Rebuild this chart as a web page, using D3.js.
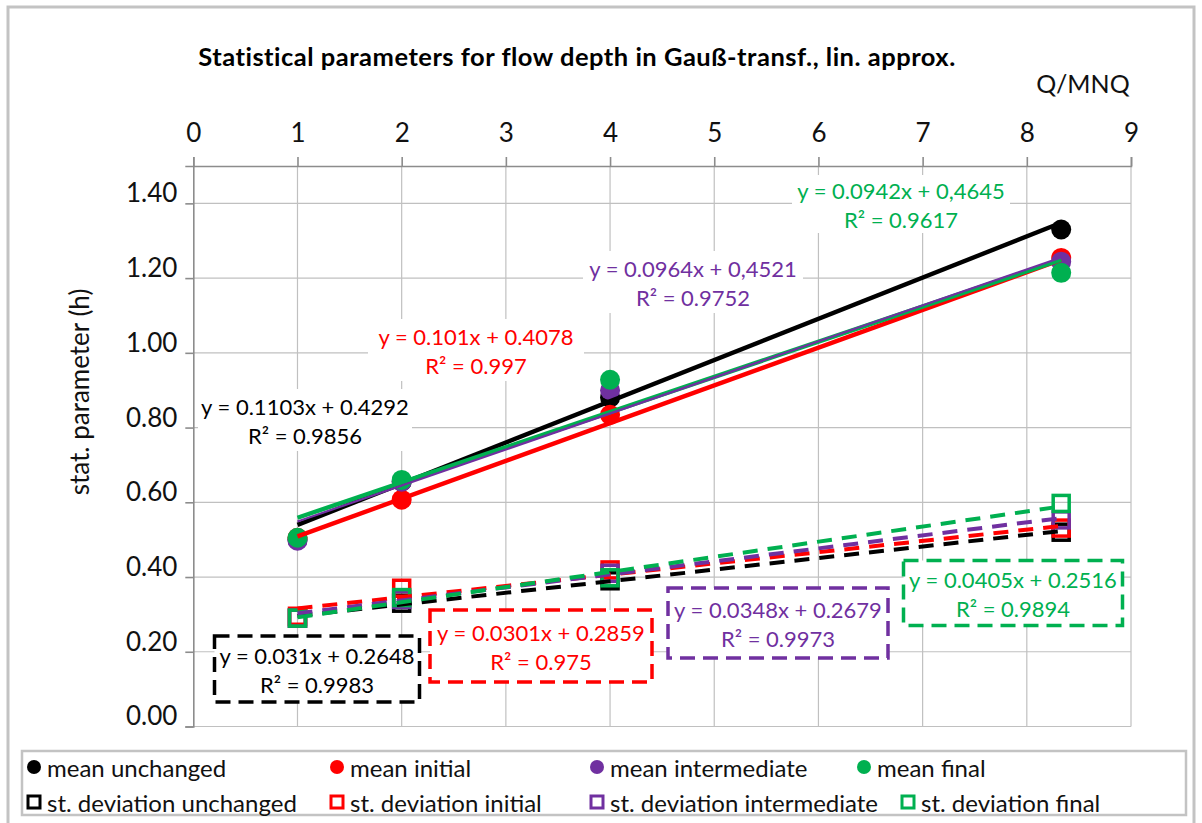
<!DOCTYPE html>
<html>
<head>
<meta charset="utf-8">
<script src="https://cdn.jsdelivr.net/npm/d3@7"></script>
<style>
  html, body { margin: 0; padding: 0; background: #fff; }
  svg { display: block; font-family: Lato, "Open Sans", sans-serif; }
</style>
</head>
<body>
<svg id="chart" width="1202" height="823"></svg>
<script>
// Discharge ratio Q/MNQ at which the flow depth statistics were evaluated
const qRatio = [1, 2, 4, 8.33];

// Mean flow depth per scenario
const meanUnchanged    = [0.50, 0.655, 0.88, 1.33];
const meanInitial      = [0.505, 0.607, 0.834, 1.254];
const meanIntermediate = [0.497, 0.655, 0.90, 1.244];
const meanFinal        = [0.505, 0.66, 0.928, 1.214];

// Standard deviation of flow depth per scenario
const sdUnchanged    = [0.29, 0.33, 0.39, 0.52];
const sdInitial      = [0.295, 0.37, 0.419, 0.531];
const sdIntermediate = [0.29, 0.34, 0.41, 0.553];
const sdFinal        = [0.29, 0.345, 0.398, 0.597];

// Linear trendlines: slope, intercept and coefficient of determination
const meanSlopes     = [0.1103, 0.101, 0.0964, 0.0942];
const meanIntercepts = [0.4292, 0.4078, 0.4521, 0.4645];
const meanEqText     = ["y = 0.1103x + 0.4292", "y = 0.101x + 0.4078", "y = 0.0964x + 0,4521", "y = 0.0942x + 0,4645"];
const meanR2Text     = ["R² = 0.9856", "R² = 0.997", "R² = 0.9752", "R² = 0.9617"];

const sdSlopes     = [0.031, 0.0301, 0.0348, 0.0405];
const sdIntercepts = [0.2648, 0.2859, 0.2679, 0.2516];
const sdEqText     = ["y = 0.031x + 0.2648", "y = 0.0301x + 0.2859", "y = 0.0348x + 0.2679", "y = 0.0405x + 0.2516"];
const sdR2Text     = ["R² = 0.9983", "R² = 0.975", "R² = 0.9973", "R² = 0.9894"];

const scenarios  = ["unchanged", "initial", "intermediate", "final"];
const xTicks     = [0, 1, 2, 3, 4, 5, 6, 7, 8, 9];
const yTicks     = [0, 0.2, 0.4, 0.6, 0.8, 1.0, 1.2, 1.4];

const colors = ["#000000", "#ff0000", "#7030a0", "#00b050"];
const meanSeries = [meanUnchanged, meanInitial, meanIntermediate, meanFinal];
const sdSeries   = [sdUnchanged, sdInitial, sdIntermediate, sdFinal];

const svg = d3.select("#chart");

// outer chart frame
svg.append("rect")
  .attr("x", 8).attr("y", 7).attr("width", 1186).attr("height", 818)
  .attr("fill", "#fff").attr("stroke", "#c3c3c3").attr("stroke-width", 3);

const x = d3.scaleLinear().domain([0, 9]).range([193.3, 1131]);
const y = d3.scaleLinear().domain([0, 1.5]).range([726.5, 166]);

// gridlines
const grid = svg.append("g").attr("stroke", "#c0c0c0").attr("stroke-width", 1.2);
grid.selectAll("line.h").data(yTicks).join("line")
  .attr("x1", x(0)).attr("x2", x(9))
  .attr("y1", d => y(d)).attr("y2", d => y(d));
grid.selectAll("line.v").data(xTicks.slice(1)).join("line")
  .attr("x1", d => x(d)).attr("x2", d => x(d))
  .attr("y1", y(1.5)).attr("y2", y(0));

// top x axis
const xAxis = svg.append("g")
  .attr("transform", `translate(0,${y(1.5)})`)
  .call(d3.axisTop(x).tickValues(xTicks).tickFormat(d3.format("d")).tickSize(9).tickPadding(15));
xAxis.select(".domain").attr("stroke", "#8c8c8c").attr("stroke-width", 1.6);
xAxis.selectAll(".tick line").attr("stroke", "#8c8c8c").attr("stroke-width", 1.6);
xAxis.selectAll(".tick text").attr("font-size", 26).attr("fill", "#111")
  .attr("font-family", "Lato, sans-serif");

// left y axis
const yAxis = svg.append("g")
  .attr("transform", `translate(${x(0)},0)`)
  .call(d3.axisLeft(y).tickValues(yTicks).tickFormat(d3.format(".2f")).tickSize(8).tickPadding(8));
yAxis.select(".domain").attr("stroke", "#8c8c8c").attr("stroke-width", 1.6);
yAxis.selectAll(".tick line").attr("stroke", "#8c8c8c").attr("stroke-width", 1.6);
yAxis.selectAll(".tick text").attr("font-size", 26).attr("fill", "#111")
  .attr("font-family", "Lato, sans-serif").attr("dy", "-0.06em");

// titles
svg.append("text").attr("x", 577).attr("y", 66).attr("text-anchor", "middle")
  .attr("font-size", 25.5).attr("font-weight", 700).attr("fill", "#000")
  .attr("letter-spacing", 0.5)
  .text("Statistical parameters for flow depth in Gauß-transf., lin. approx.");
svg.append("text").attr("x", 1083).attr("y", 93).attr("text-anchor", "middle")
  .attr("font-size", 25).attr("fill", "#111").text("Q/MNQ");
svg.append("text").attr("transform", "translate(89,392) rotate(-90)")
  .attr("text-anchor", "middle").attr("font-size", 26).attr("fill", "#111")
  .text("stat. parameter (h)");

// mean markers
const plot = svg.append("g");
meanSeries.forEach((vals, i) => {
  plot.append("g").selectAll("circle").data(vals).join("circle")
    .attr("cx", (d, j) => x(qRatio[j])).attr("cy", d => y(d))
    .attr("r", 10).attr("fill", colors[i]);
});

// standard deviation markers (open squares)
const sq = 16;
sdSeries.forEach((vals, i) => {
  plot.append("g").selectAll("rect").data(vals).join("rect")
    .attr("x", (d, j) => x(qRatio[j]) - sq / 2).attr("y", d => y(d) - sq / 2)
    .attr("width", sq).attr("height", sq)
    .attr("fill", "none").attr("stroke", colors[i]).attr("stroke-width", 3.5);
});

// trendlines over the fitted range
const xMin = d3.min(qRatio), xMax = d3.max(qRatio);
const line = d3.line().x(d => x(d[0])).y(d => y(d[1]));
[0, 1, 3, 2].forEach(i => {
  plot.append("path")
    .attr("d", line([[xMin, meanSlopes[i] * xMin + meanIntercepts[i]], [xMax, meanSlopes[i] * xMax + meanIntercepts[i]]]))
    .attr("stroke", colors[i]).attr("stroke-width", i === 2 ? 2.2 : 4.4).attr("fill", "none");
});
[0, 1, 2, 3].forEach(i => {
  plot.append("path")
    .attr("d", line([[xMin, sdSlopes[i] * xMin + sdIntercepts[i]], [xMax, sdSlopes[i] * xMax + sdIntercepts[i]]]))
    .attr("stroke", colors[i]).attr("stroke-width", 4).attr("fill", "none")
    .attr("stroke-dasharray", "15,10");
});

// trendline equation labels
function eqLabel(cx, cy, w, h, eq, r2, color, dashed) {
  const g = svg.append("g");
  g.append("rect").attr("x", cx - w / 2).attr("y", cy - h / 2).attr("width", w).attr("height", h)
    .attr("fill", "#fff")
    .attr("stroke", dashed ? color : "none").attr("stroke-width", 3.5)
    .attr("stroke-dasharray", dashed ? "15,8" : null);
  g.append("text").attr("x", cx).attr("y", cy - 14).attr("text-anchor", "middle")
    .attr("dominant-baseline", "central").attr("font-size", 22).attr("fill", color).text(eq);
  g.append("text").attr("x", cx).attr("y", cy + 15).attr("text-anchor", "middle")
    .attr("dominant-baseline", "central").attr("font-size", 22).attr("fill", color).text(r2);
}
eqLabel(305, 420, 214, 62, meanEqText[0], meanR2Text[0], colors[0], false);
eqLabel(476, 350, 216, 62, meanEqText[1], meanR2Text[1], colors[1], false);
eqLabel(693, 282, 220, 62, meanEqText[2], meanR2Text[2], colors[2], false);
eqLabel(901, 204, 218, 58, meanEqText[3], meanR2Text[3], colors[3], false);

eqLabel(317, 669, 205, 66, sdEqText[0], sdR2Text[0], colors[0], true);
eqLabel(541, 646, 222, 72, sdEqText[1], sdR2Text[1], colors[1], true);
eqLabel(778, 623, 220, 70, sdEqText[2], sdR2Text[2], colors[2], true);
eqLabel(1013, 593, 219, 65, sdEqText[3], sdR2Text[3], colors[3], true);

// legend
const legend = svg.append("g");
legend.append("rect").attr("x", 22).attr("y", 751).attr("width", 1164).attr("height", 64)
  .attr("fill", "#fff").attr("stroke", "#c3c3c3").attr("stroke-width", 2.5);
const colX = [34, 337, 597, 864];
const sdColX = [34, 337, 597, 908];
scenarios.forEach((name, i) => {
  legend.append("circle").attr("cx", colX[i]).attr("cy", 767).attr("r", 7).attr("fill", colors[i]);
  legend.append("text").attr("x", colX[i] + 13).attr("y", 767).attr("dominant-baseline", "central")
    .attr("font-size", 24).attr("fill", "#111").text("mean " + name);
  legend.append("rect").attr("x", sdColX[i] - 6).attr("y", 802 - 6).attr("width", 12).attr("height", 12)
    .attr("fill", "none").attr("stroke", colors[i]).attr("stroke-width", 3);
  legend.append("text").attr("x", sdColX[i] + 13).attr("y", 802).attr("dominant-baseline", "central")
    .attr("font-size", 24).attr("fill", "#111").text("st. deviation " + name);
});
</script>
</body>
</html>
